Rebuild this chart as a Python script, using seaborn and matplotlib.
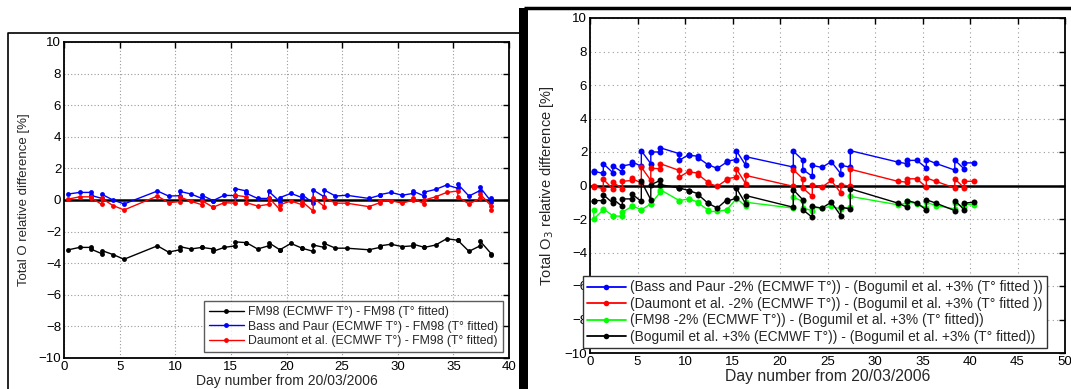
import numpy as np
import pandas as pd
import matplotlib
matplotlib.use("Agg")
import matplotlib.pyplot as plt
import seaborn as sns
from matplotlib.lines import Line2D
from matplotlib.patches import Rectangle

# ---------------- data: left panel ----------------
L_DAY = [0.4, 1.4, 2.4, 2.4, 3.4, 3.4, 4.4, 5.4, 8.4, 9.4, 10.4, 10.4, 11.4,
         12.4, 12.4, 13.4, 13.4, 14.4, 15.4, 15.4, 16.4, 16.4, 17.4, 18.4, 18.4,
         19.4, 19.4, 20.4, 21.4, 21.4, 22.4, 22.4, 23.4, 23.4, 24.4, 25.4, 27.4,
         28.4, 28.4, 29.4, 30.4, 31.4, 31.4, 32.4, 32.4, 33.4, 34.4, 35.4, 35.4,
         36.4, 37.4, 37.4, 38.4, 38.4]
L_FM98 = [-3.15, -3.0, -3.0, -3.1, -3.4, -3.2, -3.45, -3.75, -2.9, -3.3, -3.15, -2.95, -3.1,
          -3.0, -3.0, -3.1, -3.25, -3.0, -2.9, -2.65, -2.7, -2.7, -3.1, -2.9, -2.7,
          -3.15, -3.15, -2.75, -3.05, -3.05, -3.25, -2.85, -3.0, -2.75, -3.05, -3.05, -3.15,
          -3.0, -2.9, -2.8, -2.95, -2.9, -2.8, -3.0, -3.0, -2.85, -2.45, -2.55, -2.55,
          -3.25, -2.9, -2.6, -3.4, -3.5]
L_BASS = [0.38, 0.48, 0.48, 0.3, 0.1, 0.36, 0.0, -0.25, 0.57, 0.25, 0.27, 0.55, 0.38,
          0.1, 0.3, -0.04, -0.04, 0.3, 0.27, 0.72, 0.57, 0.42, 0.1, 0.1, 0.55,
          -0.1, 0.15, 0.42, 0.15, 0.34, -0.2, 0.63, 0.2, 0.63, 0.25, 0.3, 0.1,
          0.3, 0.34, 0.48, 0.3, 0.42, 0.55, 0.25, 0.5, 0.67, 0.95, 0.74, 1.0,
          0.25, 0.6, 0.8, -0.1, 0.15]
L_DAUM = [0.06, 0.2, 0.2, 0.15, -0.28, 0.1, -0.35, -0.63, 0.25, -0.17, -0.1, 0.2, -0.08,
          -0.3, -0.04, -0.46, -0.46, -0.17, -0.2, 0.3, 0.2, -0.17, -0.38, -0.28, 0.15,
          -0.6, -0.3, -0.06, -0.3, -0.1, -0.7, 0.15, -0.42, 0.15, -0.2, -0.2, -0.42,
          -0.17, -0.06, -0.04, -0.2, 0.0, 0.1, -0.25, 0.0, 0.2, 0.48, 0.57, 0.2,
          -0.25, 0.1, 0.38, -0.38, -0.63]
L_LABELS = ["FM98 (ECMWF T°) - FM98 (T° fitted)",
            "Bass and Paur (ECMWF T°) - FM98 (T° fitted)",
            "Daumont et al. (ECMWF T°) - FM98 (T° fitted)"]

# ---------------- data: right panel ----------------
R_DAY = [0.4, 0.4, 1.4, 1.4, 2.4, 2.4, 3.4, 3.4, 4.4, 4.4, 5.4, 5.4, 6.4, 6.4, 7.4, 7.4,
         9.4, 9.4, 10.4, 10.4, 11.4, 11.4, 12.4, 12.4, 13.4, 14.4, 14.4, 15.4, 15.4,
         16.4, 16.4, 21.4, 21.4, 22.4, 22.4, 23.4, 23.4, 24.4, 25.4, 26.4, 26.4,
         27.4, 27.4, 32.4, 33.4, 33.4, 34.4, 35.4, 35.4, 36.4, 38.4, 38.4, 39.4, 39.4, 40.4]
R_BASS = [0.83, 0.85, 0.72, 1.3, 0.77, 1.17, 0.8, 1.17, 1.27, 1.42, 1.15, 2.08, 1.3, 2.0, 2.0, 2.25,
          1.9, 1.5, 1.85, 1.8, 1.75, 1.65, 1.25, 1.25, 1.02, 1.4, 1.45, 1.55, 2.08,
          1.2, 1.72, 1.1, 2.05, 1.52, 0.95, 0.55, 1.2, 1.08, 1.42, 0.7, 1.2,
          1.1, 2.08, 1.4, 1.3, 1.5, 1.5, 1.05, 1.55, 1.32, 0.92, 1.52, 0.98, 1.35, 1.35]
R_DAUM = [-0.1, -0.05, -0.2, 0.37, -0.2, 0.2, -0.2, 0.25, 0.3, 0.42, 0.15, 1.1, 0.3, 1.03, 1.0, 1.3,
          0.9, 0.5, 0.85, 0.8, 0.75, 0.65, 0.2, 0.15, -0.05, 0.35, 0.4, 0.5, 1.0,
          0.1, 0.6, -0.05, 0.95, 0.4, -0.15, -0.65, 0.05, -0.1, 0.3, -0.45, 0.05,
          -0.05, 0.97, 0.25, 0.2, 0.4, 0.4, -0.1, 0.45, 0.25, -0.15, 0.4, -0.15, 0.25, 0.25]
R_FM98 = [-1.45, -2.0, -1.45, -1.4, -1.8, -1.8, -1.85, -1.6, -1.25, -1.2, -1.45, -1.45, -1.1, -1.1, -0.4, -0.25,
          -0.9, -0.9, -0.8, -0.8, -1.0, -1.05, -1.45, -1.55, -1.55, -1.45, -1.45, -0.8, -0.75,
          -1.25, -1.0, -1.35, -0.7, -0.95, -1.35, -1.5, -1.3, -1.35, -1.25, -1.4, -1.35,
          -1.3, -0.65, -1.15, -1.05, -0.95, -1.1, -1.35, -1.0, -1.2, -1.4, -1.05, -1.3, -1.1, -1.15]
R_BOGU = [-0.95, -0.9, -0.9, -0.55, -1.05, -0.8, -1.25, -0.8, -0.8, -0.5, -0.95, 0.25, -0.85, 0.05, 0.3, 0.05,
          -0.15, -0.15, -0.3, -0.3, -0.5, -0.55, -1.05, -1.05, -1.35, -0.85, -0.95, -0.75, -0.15,
          -1.1, -0.6, -1.3, -0.25, -0.85, -1.45, -1.9, -1.25, -1.35, -1.0, -1.8, -1.3,
          -1.4, -0.2, -1.05, -1.3, -0.9, -1.05, -1.45, -0.85, -1.05, -1.5, -0.9, -1.45, -1.05, -1.0]
R_LABELS = ["(Bass and Paur -2% (ECMWF T°)) - (Bogumil et al. +3% (T° fitted ))",
            "(Daumont et al. -2% (ECMWF T°)) - (Bogumil et al. +3% (T° fitted ))",
            "(FM98 -2% (ECMWF T°)) - (Bogumil et al. +3% (T° fitted))",
            "(Bogumil et al. +3% (ECMWF T°)) - (Bogumil et al. +3% (T° fitted))"]

Y_TICKS = [-10, -8, -6, -4, -2, 0, 2, 4, 6, 8, 10]
X_TICKS_L = [0, 5, 10, 15, 20, 25, 30, 35, 40]
X_TICKS_R = [0, 5, 10, 15, 20, 25, 30, 35, 40, 45, 50]
X_LABEL = "Day number from 20/03/2006"

# ---------------- style ----------------
sns.set_theme(style="white")
plt.rcParams['font.family'] = ['Liberation Sans', 'DejaVu Sans']
plt.rcParams['axes.edgecolor'] = 'black'
plt.rcParams['axes.linewidth'] = 1.3

W, H = 1071, 389
fig = plt.figure(figsize=(W / 100, H / 100), dpi=100)
fig.patch.set_facecolor('white')


def rect(x0, y0, x1, y1):
    return [x0 / W, 1 - y1 / H, (x1 - x0) / W, (y1 - y0) / H]


ax1 = fig.add_axes(rect(64, 42, 509, 358))
ax2 = fig.add_axes(rect(590, 18, 1065, 353))


def style_axes(ax, xticks, xmax, fs, gridstyle):
    ax.set_xlim(0, xmax)
    ax.set_ylim(-10, 10)
    ax.set_xticks(xticks)
    ax.set_yticks(Y_TICKS)
    ax.tick_params(direction='in', length=4, width=1, top=True, right=True,
                   labelsize=fs, colors='black', pad=2)
    ax.grid(True, color='#999999', linestyle=gridstyle, linewidth=0.8)
    for s in ax.spines.values():
        s.set_visible(True)
        s.set_color('black')
        s.set_linewidth(1.3)
    ax.axhline(0, color='black', lw=1.8, zorder=3)


def draw(ax, x, y, color, label, ms):
    df = pd.DataFrame({'x': x, 'y': y})
    sns.lineplot(data=df, x='x', y='y', ax=ax, estimator=None, sort=False,
                 color=color, lw=1.0, marker='o', markersize=ms,
                 markeredgewidth=0, label=label, legend=False, zorder=4)


# left panel
style_axes(ax1, X_TICKS_L, 40, 9.5, (0, (1, 2)))
draw(ax1, L_DAY, L_FM98, 'black', L_LABELS[0], 3.5)
draw(ax1, L_DAY, L_BASS, '#0000ff', L_LABELS[1], 3.5)
draw(ax1, L_DAY, L_DAUM, '#ff0000', L_LABELS[2], 3.5)
ax1.set_xlabel(X_LABEL, fontsize=10, labelpad=1)
ax1.set_ylabel("Total O relative difference [%]", fontsize=9.5, labelpad=6)
h1 = [Line2D([], [], color=c, lw=1, marker='o', ms=3.5, mew=0)
      for c in ['black', '#0000ff', '#ff0000']]
leg1 = ax1.legend(h1, L_LABELS, loc='lower right', bbox_to_anchor=(1.0, 0.0),
                  fontsize=8.8, frameon=True, fancybox=False, edgecolor='#333333',
                  handlelength=2.9, handletextpad=0.3, borderpad=0.4,
                  labelspacing=0.2, borderaxespad=0.5)
leg1.get_frame().set_linewidth(1.0)

# right panel
style_axes(ax2, X_TICKS_R, 50, 9.5, (0, (1, 3)))
draw(ax2, R_DAY, R_BASS, '#0000ff', R_LABELS[0], 4.3)
draw(ax2, R_DAY, R_DAUM, '#ff0000', R_LABELS[1], 4.3)
draw(ax2, R_DAY, R_FM98, '#00ff00', R_LABELS[2], 4.3)
draw(ax2, R_DAY, R_BOGU, 'black', R_LABELS[3], 4.3)
ax2.set_xlabel(X_LABEL, fontsize=11.3, labelpad=1)
ax2.set_ylabel("Total O$_3$ relative difference [%]", fontsize=10.5, labelpad=6)
h2 = [Line2D([], [], color=c, lw=1.3, marker='o', ms=4, mew=0)
      for c in ['#0000ff', '#ff0000', '#00ff00', 'black']]
leg2 = fig.legend(h2, R_LABELS, loc='lower left',
                  bbox_to_anchor=(583 / W, 1 - 348 / H),
                  fontsize=9.9, frameon=True, fancybox=False, edgecolor='#333333',
                  handlelength=2.8, handletextpad=0.35, borderpad=0.3,
                  labelspacing=0.18, borderaxespad=0.0, framealpha=1)
leg2.get_frame().set_linewidth(1.0)


# decorative panel frames (image composite borders)
def fline(xs, ys, lw):
    fig.add_artist(Line2D([x / W for x in xs], [1 - y / H for y in ys],
                          transform=fig.transFigure, color='black', lw=lw,
                          solid_capstyle='butt'))


fline([8, 8, 522], [389, 33, 33], 1.2)
fline([524, 1071], [8, 8], 2.5)
fig.add_artist(Rectangle((519 / W, 0), 9 / W, 1 - 8 / H, transform=fig.transFigure,
                         color='black', lw=0))

fig.savefig("out.png", dpi=100)
